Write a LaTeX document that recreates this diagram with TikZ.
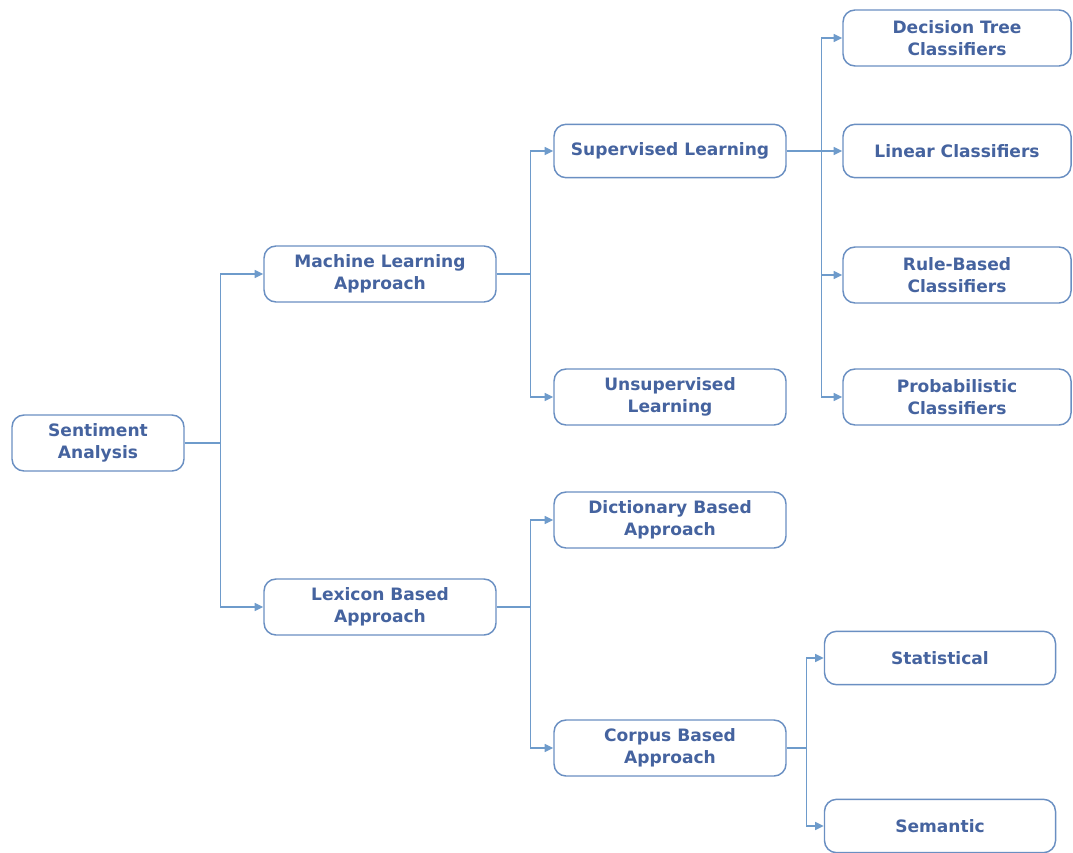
\documentclass[tikz,border=0pt]{standalone}
\usepackage{fontspec}
\setmainfont{DejaVu Sans}
\usetikzlibrary{arrows.meta}
\definecolor{boxline}{HTML}{6A8FC2}
\definecolor{boxtext}{HTML}{45639F}
\definecolor{wire}{HTML}{6E9BCB}
\tikzset{
  box/.style={draw=boxline, line width=1.1pt, rounded corners=9pt, fill=white,
    text=boxtext, font=\bfseries\fontsize{12.8}{16.5}\selectfont, align=center,
    minimum width=#1*0.75pt, minimum height=42pt, inner sep=2pt},
  box/.default=232,
  wire/.style={draw=wire, line width=1.1pt},
  arr/.style={wire, -{Triangle[length=6.5pt,width=6pt]}},
}
\begin{document}
\begin{tikzpicture}[x=0.75pt,y=-0.75pt]
\useasboundingbox (0,0) rectangle (1073,852);
% nodes
\node[box=172] (sa) at (98,443) {Sentiment\\Analysis};
\node[box] (ml) at (380,274) {Machine Learning\\Approach};
\node[box] (lx) at (380,607) {Lexicon Based\\Approach};
\node[box, minimum height=40pt] (sl) at (670,151) {Supervised Learning};
\node[box] (ul) at (670,397) {Unsupervised\\Learning};
\node[box] (db) at (670,520) {Dictionary Based\\Approach};
\node[box] (cb) at (670,748) {Corpus Based\\Approach};
\node[box=228] (dt) at (957,38) {Decision Tree\\Classifiers};
\node[box=228, minimum height=40pt] (lc) at (957,151) {Linear Classifiers};
\node[box=228] (rb) at (957,275) {Rule-Based\\Classifiers};
\node[box=228] (pc) at (957,397) {Probabilistic\\Classifiers};
\node[box=231, minimum height=40pt] (st) at (940,658) {Statistical};
\node[box=231, minimum height=40pt] (se) at (940,826) {Semantic};
% connectors
\draw[wire] (sa.east) -- ++(36,0) coordinate (j1);
\draw[arr] (j1) |- (ml.west);
\draw[arr] (j1) |- (lx.west);
\draw[wire] (ml.east) -- ++(34,0) coordinate (j2);
\draw[arr] (j2) |- (sl.west);
\draw[arr] (j2) |- (ul.west);
\draw[wire] (lx.east) -- ++(34,0) coordinate (j3);
\draw[arr] (j3) |- (db.west);
\draw[arr] (j3) |- (cb.west);
\draw[wire] (sl.east) -- ++(35,0) coordinate (j4);
\draw[arr] (j4) |- (dt.west);
\draw[arr] (j4) |- (lc.west);
\draw[arr] (j4) |- (rb.west);
\draw[arr] (j4) |- (pc.west);
\draw[wire] (cb.east) -- ++(20,0) coordinate (j5);
\draw[arr] (j5) |- (st.west);
\draw[arr] (j5) |- (se.west);
\end{tikzpicture}
\end{document}
